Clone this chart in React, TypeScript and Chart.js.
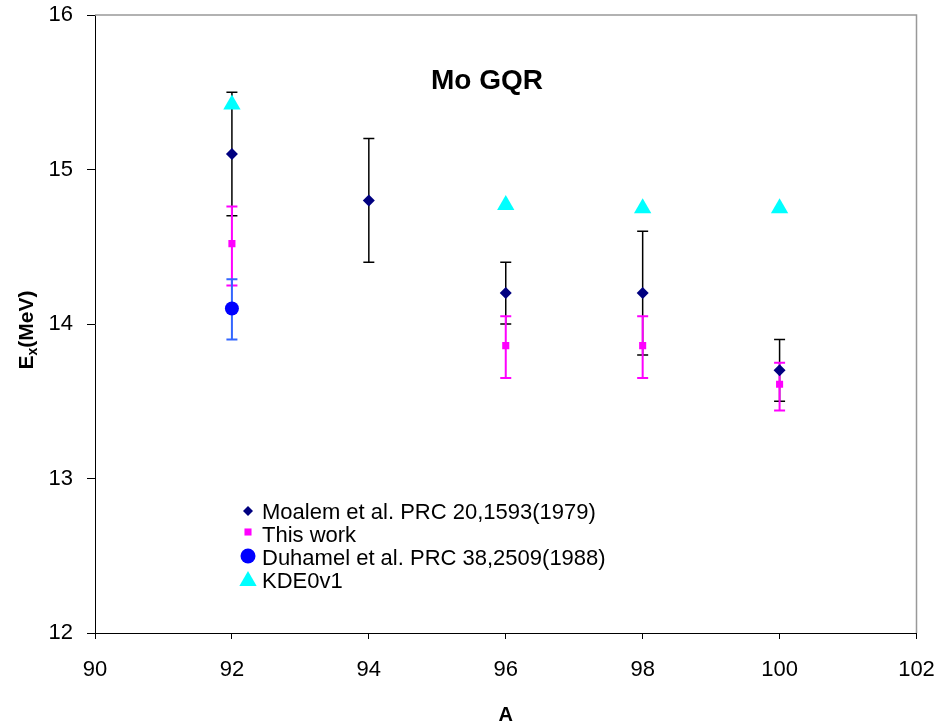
import { useEffect, useRef } from 'react';
import { Chart, registerables } from 'chart.js';

Chart.register(...registerables);

// ---- data ----
const moalemA = [92, 94, 96, 98, 100];
const moalemE = [15.1, 14.8, 14.2, 14.2, 13.7];
const moalemErrPlus = [0.4, 0.4, 0.2, 0.4, 0.2];
const moalemErrMinus = [0.4, 0.4, 0.2, 0.4, 0.2];

const thisWorkA = [92, 96, 98, 100];
const thisWorkE = [14.52, 13.86, 13.86, 13.61];
const thisWorkErrPlus = [0.24, 0.19, 0.19, 0.14];
const thisWorkErrMinus = [0.27, 0.21, 0.21, 0.17];

const duhamelA = [92];
const duhamelE = [14.1];
const duhamelErrPlus = [0.19];
const duhamelErrMinus = [0.2];

const kdeA = [92, 96, 98, 100];
const kdeE = [15.42, 14.77, 14.75, 14.75];

const seriesLabels = [
  'Moalem et al. PRC 20,1593(1979)',
  'This work',
  'Duhamel et al. PRC 38,2509(1988)',
  'KDE0v1',
];
const chartTitle = 'Mo GQR';
const xTitle = 'A';

const FONT = "'Liberation Sans', Arial, Helvetica, sans-serif";

const NAVY = '#000080';
const MAGENTA = '#FF00FF';
const BLUE = '#0000FF';
const CYAN = '#00FFFF';

function pts(xs: number[], ys: number[]) {
  return xs.map((x, i) => ({ x, y: ys[i] }));
}

const errorBarPlugin = {
  id: 'errorBars',
  beforeDatasetsDraw(chart: any) {
    const { ctx, scales } = chart;
    const xs = scales.x;
    const ys = scales.y;
    const groups = [
      { a: moalemA, e: moalemE, p: moalemErrPlus, m: moalemErrMinus, color: '#000000', w: 1.5 },
      { a: thisWorkA, e: thisWorkE, p: thisWorkErrPlus, m: thisWorkErrMinus, color: MAGENTA, w: 2 },
      { a: duhamelA, e: duhamelE, p: duhamelErrPlus, m: duhamelErrMinus, color: '#3366FF', w: 2 },
    ];
    ctx.save();
    const cap = 5.5;
    groups.forEach((g) => {
      ctx.strokeStyle = g.color;
      ctx.lineWidth = g.w;
      g.a.forEach((a, i) => {
        const px = xs.getPixelForValue(a);
        const top = ys.getPixelForValue(g.e[i] + g.p[i]);
        const bot = ys.getPixelForValue(g.e[i] - g.m[i]);
        ctx.beginPath();
        ctx.moveTo(px, top);
        ctx.lineTo(px, bot);
        ctx.moveTo(px - cap, top);
        ctx.lineTo(px + cap, top);
        ctx.moveTo(px - cap, bot);
        ctx.lineTo(px + cap, bot);
        ctx.stroke();
      });
    });
    ctx.restore();
  },
};

function drawMarker(ctx: CanvasRenderingContext2D, style: string, x: number, y: number, r: number, color: string) {
  ctx.fillStyle = color;
  ctx.beginPath();
  if (style === 'rectRot') {
    ctx.moveTo(x, y - r);
    ctx.lineTo(x + r, y);
    ctx.lineTo(x, y + r);
    ctx.lineTo(x - r, y);
    ctx.closePath();
  } else if (style === 'rect') {
    const s = Math.SQRT1_2 * r;
    ctx.rect(x - s, y - s, 2 * s, 2 * s);
  } else if (style === 'circle') {
    ctx.arc(x, y, r, 0, Math.PI * 2);
  } else if (style === 'triangle') {
    ctx.moveTo(x, y - r);
    ctx.lineTo(x + r * Math.sin((2 * Math.PI) / 3), y - r * Math.cos((2 * Math.PI) / 3));
    ctx.lineTo(x + r * Math.sin((4 * Math.PI) / 3), y - r * Math.cos((4 * Math.PI) / 3));
    ctx.closePath();
  }
  ctx.fill();
}

const decorPlugin = {
  id: 'decor',
  afterDraw(chart: any) {
    const { ctx, chartArea } = chart;
    ctx.save();
    // top and right border (gray)
    ctx.strokeStyle = '#999999';
    ctx.lineWidth = 1.5;
    ctx.beginPath();
    ctx.moveTo(chartArea.left, chartArea.top);
    ctx.lineTo(chartArea.right, chartArea.top);
    ctx.lineTo(chartArea.right, chartArea.bottom);
    ctx.stroke();

    // chart title
    ctx.fillStyle = '#000';
    ctx.font = `bold 28px ${FONT}`;
    ctx.textAlign = 'center';
    ctx.textBaseline = 'alphabetic';
    ctx.fillText(chartTitle, 487, 89);

    // x title
    ctx.font = `bold 20px ${FONT}`;
    ctx.fillText(xTitle, (chartArea.left + chartArea.right) / 2, 721);

    // y title with subscript
    ctx.save();
    ctx.translate(33, 330);
    ctx.rotate(-Math.PI / 2);
    ctx.textAlign = 'left';
    const bigFont = `bold 21px ${FONT}`;
    const subFont = `bold 14px ${FONT}`;
    ctx.font = bigFont;
    const wE = ctx.measureText('E').width;
    const wRest = ctx.measureText('(MeV)').width;
    ctx.font = subFont;
    const wX = ctx.measureText('x').width;
    const total = wE + wX + wRest;
    let cx = -total / 2;
    ctx.font = bigFont;
    ctx.fillText('E', cx, 0);
    cx += wE;
    ctx.font = subFont;
    ctx.fillText('x', cx, 4);
    cx += wX;
    ctx.font = bigFont;
    ctx.fillText('(MeV)', cx, 0);
    ctx.restore();

    // legend
    const items = chart.data.datasets.map((ds: any, i: number) => ({
      label: seriesLabels[i],
      style: ds.pointStyle,
      color: ds.backgroundColor,
    }));
    const legendRadii = [5, 5, 7.5, 10];
    const markerY = [511, 532, 556, 581];
    const textY = [519, 542, 565, 588];
    ctx.font = `22px ${FONT}`;
    ctx.textAlign = 'left';
    items.forEach((it: any, i: number) => {
      drawMarker(ctx, it.style, 248, markerY[i], legendRadii[i], it.color);
      ctx.fillStyle = '#000';
      ctx.fillText(it.label, 262, textY[i]);
    });
    ctx.restore();
  },
};

function zeroPad(scale: any) {
  scale.paddingTop = 0;
  scale.paddingBottom = 0;
  scale.paddingLeft = 0;
  scale.paddingRight = 0;
}

export default function App() {
  const ref = useRef<HTMLCanvasElement | null>(null);

  useEffect(() => {
    document.body.style.margin = '0';
    if (!ref.current) return;
    const chart = new Chart(ref.current, {
      type: 'scatter',
      data: {
        datasets: [
          {
            label: seriesLabels[0],
            data: pts(moalemA, moalemE),
            pointStyle: 'rectRot',
            pointRadius: 6,
            backgroundColor: NAVY,
            borderColor: NAVY,
            borderWidth: 0,
            showLine: false,
          },
          {
            label: seriesLabels[1],
            data: pts(thisWorkA, thisWorkE),
            pointStyle: 'rect',
            pointRadius: 5,
            backgroundColor: MAGENTA,
            borderColor: MAGENTA,
            borderWidth: 0,
            showLine: false,
          },
          {
            label: seriesLabels[2],
            data: pts(duhamelA, duhamelE),
            pointStyle: 'circle',
            pointRadius: 7,
            backgroundColor: BLUE,
            borderColor: BLUE,
            borderWidth: 0,
            showLine: false,
          },
          {
            label: seriesLabels[3],
            data: pts(kdeA, kdeE),
            pointStyle: 'triangle',
            pointRadius: 10,
            backgroundColor: CYAN,
            borderColor: CYAN,
            borderWidth: 0,
            showLine: false,
          },
        ],
      } as any,
      options: {
        animation: false,
        responsive: false,
        devicePixelRatio: 1,
        events: [],
        layout: { autoPadding: false, padding: { top: 15, right: 23.5, left: 0, bottom: 0 } },
        plugins: {
          legend: { display: false },
          tooltip: { enabled: false },
          title: { display: false },
        },
        scales: {
          x: {
            type: 'linear',
            min: 90,
            max: 102,
            ticks: {
              stepSize: 2,
              color: '#000',
              font: { family: FONT, size: 22 },
              padding: 18,
            },
            grid: {
              drawOnChartArea: false,
              drawTicks: true,
              tickLength: 6,
              color: '#000',
            },
            border: { display: true, color: '#000', width: 1 },
            afterFit(scale: any) {
              scale.height = 88;
              zeroPad(scale);
            },
          },
          y: {
            type: 'linear',
            min: 12,
            max: 16,
            ticks: {
              stepSize: 1,
              color: '#000',
              font: { family: FONT, size: 22 },
              padding: 14,
            },
            grid: {
              drawOnChartArea: false,
              drawTicks: true,
              tickLength: 8,
              color: '#000',
            },
            border: { display: true, color: '#000', width: 1 },
            afterFit(scale: any) {
              scale.width = 95;
              zeroPad(scale);
            },
          },
        },
      } as any,
      plugins: [errorBarPlugin, decorPlugin],
    });
    return () => chart.destroy();
  }, []);

  return (
    <div style={{ width: 940, height: 721, background: '#fff' }}>
      <canvas ref={ref} width={940} height={721} style={{ display: 'block' }} />
    </div>
  );
}
